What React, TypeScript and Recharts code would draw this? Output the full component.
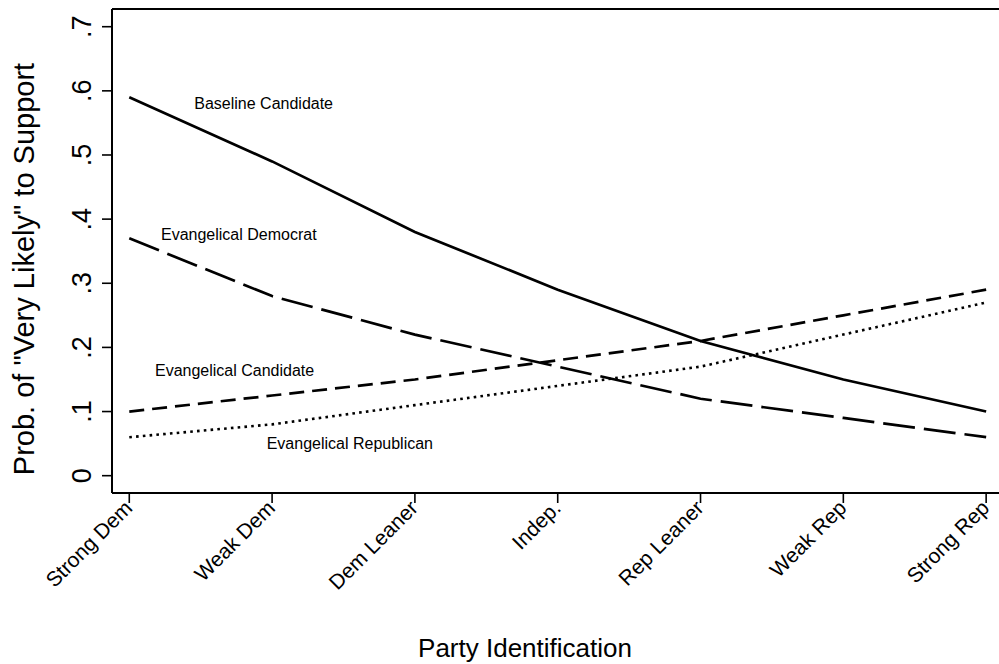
import React from "react";
import {
  ComposedChart,
  Line,
  XAxis,
  YAxis,
  ReferenceLine,
  ReferenceDot,
} from "recharts";

// ---- Data ----
const categories = [
  "Strong Dem",
  "Weak Dem",
  "Dem Leaner",
  "Indep.",
  "Rep Leaner",
  "Weak Rep",
  "Strong Rep",
];
const baselineCandidate = [0.59, 0.49, 0.38, 0.29, 0.21, 0.15, 0.1];
const evangelicalDemocrat = [0.37, 0.28, 0.22, 0.17, 0.12, 0.09, 0.06];
const evangelicalCandidate = [0.1, 0.125, 0.15, 0.18, 0.21, 0.25, 0.29];
const evangelicalRepublican = [0.06, 0.08, 0.11, 0.14, 0.17, 0.22, 0.27];

const yTicks = [0, 0.1, 0.2, 0.3, 0.4, 0.5, 0.6, 0.7];
const yTickLabels = ["0", ".1", ".2", ".3", ".4", ".5", ".6", ".7"];
const xTicks = [0, 1, 2, 3, 4, 5, 6];

const annotationText = [
  "Baseline Candidate",
  "Evangelical Democrat",
  "Evangelical Candidate",
  "Evangelical Republican",
];
const annotationX = [0.455, 0.222, 0.18, 0.962];
const annotationY = [0.58, 0.376, 0.165, 0.05];

const X_DOMAIN: [number, number] = [-0.121, 6.09];
const Y_DOMAIN: [number, number] = [-0.027, 0.7276];

const data = categories.map((c, i) => ({
  x: i,
  name: c,
  baseline: baselineCandidate[i],
  evDem: evangelicalDemocrat[i],
  evCand: evangelicalCandidate[i],
  evRep: evangelicalRepublican[i],
}));

const FONT = "'Liberation Sans', Arial, Helvetica, sans-serif";

const XTick = (props: any) => {
  const { x, y, payload } = props;
  return (
    <text
      transform={`translate(${x - 1},${y}) rotate(-45)`}
      textAnchor="end"
      dy="0.36em"
      fontSize={21}
      fontFamily={FONT}
      fill="#000"
    >
      {categories[payload.value]}
    </text>
  );
};

const YTick = (props: any) => {
  const { x, y, payload } = props;
  const idx = yTicks.indexOf(payload.value);
  return (
    <text
      transform={`translate(${x},${y}) rotate(-90)`}
      textAnchor="middle"
      fontSize={27}
      fontFamily={FONT}
      fill="#000"
    >
      {idx >= 0 ? yTickLabels[idx] : payload.value}
    </text>
  );
};

const annotationLabel = (text: string) => (props: any) => {
  const vb = props.viewBox || {};
  const cx = (vb.x ?? 0) + (vb.width ?? 0) / 2;
  const cy = (vb.y ?? 0) + (vb.height ?? 0) / 2;
  return (
    <text
      x={cx}
      y={cy}
      dy="0.36em"
      textAnchor="start"
      fontSize={16}
      fontFamily={FONT}
      fill="#000"
    >
      {text}
    </text>
  );
};

export default function App() {
  return (
    <div
      style={{
        position: "absolute",
        left: 0,
        top: 0,
        width: 999,
        height: 664,
        background: "#fff",
        overflow: "hidden",
      }}
    >
      <ComposedChart
        width={999}
        height={664}
        data={data}
        margin={{ top: 9, right: 0, bottom: 0, left: 0 }}
      >
        <XAxis
          dataKey="x"
          type="number"
          domain={X_DOMAIN}
          allowDataOverflow
          ticks={xTicks}
          interval={0}
          height={171}
          tickSize={10}
          tickMargin={1}
          axisLine={{ stroke: "#000", strokeWidth: 2 }}
          tickLine={{ stroke: "#000", strokeWidth: 1.6 }}
          tick={<XTick />}
          label={(p: any) => (
            <text
              x={525}
              y={657}
              textAnchor="middle"
              fontSize={26}
              fontFamily={FONT}
              fill="#000"
            >
              Party Identification
            </text>
          )}
        />
        <YAxis
          type="number"
          domain={Y_DOMAIN}
          allowDataOverflow
          ticks={yTicks}
          interval={0}
          width={112}
          tickSize={10}
          tickMargin={11}
          axisLine={{ stroke: "#000", strokeWidth: 2 }}
          tickLine={{ stroke: "#000", strokeWidth: 1.6 }}
          tick={<YTick />}
          label={(p: any) => (
            <text
              transform="translate(34,269) rotate(-90)"
              textAnchor="middle"
              fontSize={29}
              fontFamily={FONT}
              fill="#000"
            >
              Prob. of "Very Likely" to Support
            </text>
          )}
        />
        <ReferenceLine y={Y_DOMAIN[1]} stroke="#000" strokeWidth={2} />
        <Line
          type="linear"
          dataKey="baseline"
          stroke="#000"
          strokeWidth={2.7}
          dot={false}
          isAnimationActive={false}
        />
        <Line
          type="linear"
          dataKey="evDem"
          stroke="#000"
          strokeWidth={2.7}
          strokeDasharray="32 9"
          dot={false}
          isAnimationActive={false}
        />
        <Line
          type="linear"
          dataKey="evCand"
          stroke="#000"
          strokeWidth={2.7}
          strokeDasharray="15 8"
          dot={false}
          isAnimationActive={false}
        />
        <Line
          type="linear"
          dataKey="evRep"
          stroke="#000"
          strokeWidth={2.6}
          strokeDasharray="2.6 4.2"
          dot={false}
          isAnimationActive={false}
        />
        {annotationText.map((t, i) => (
          <ReferenceDot
            key={t}
            x={annotationX[i]}
            y={annotationY[i]}
            r={1}
            fill="none"
            stroke="none"
            ifOverflow="visible"
            label={annotationLabel(t)}
          />
        ))}
      </ComposedChart>
    </div>
  );
}
